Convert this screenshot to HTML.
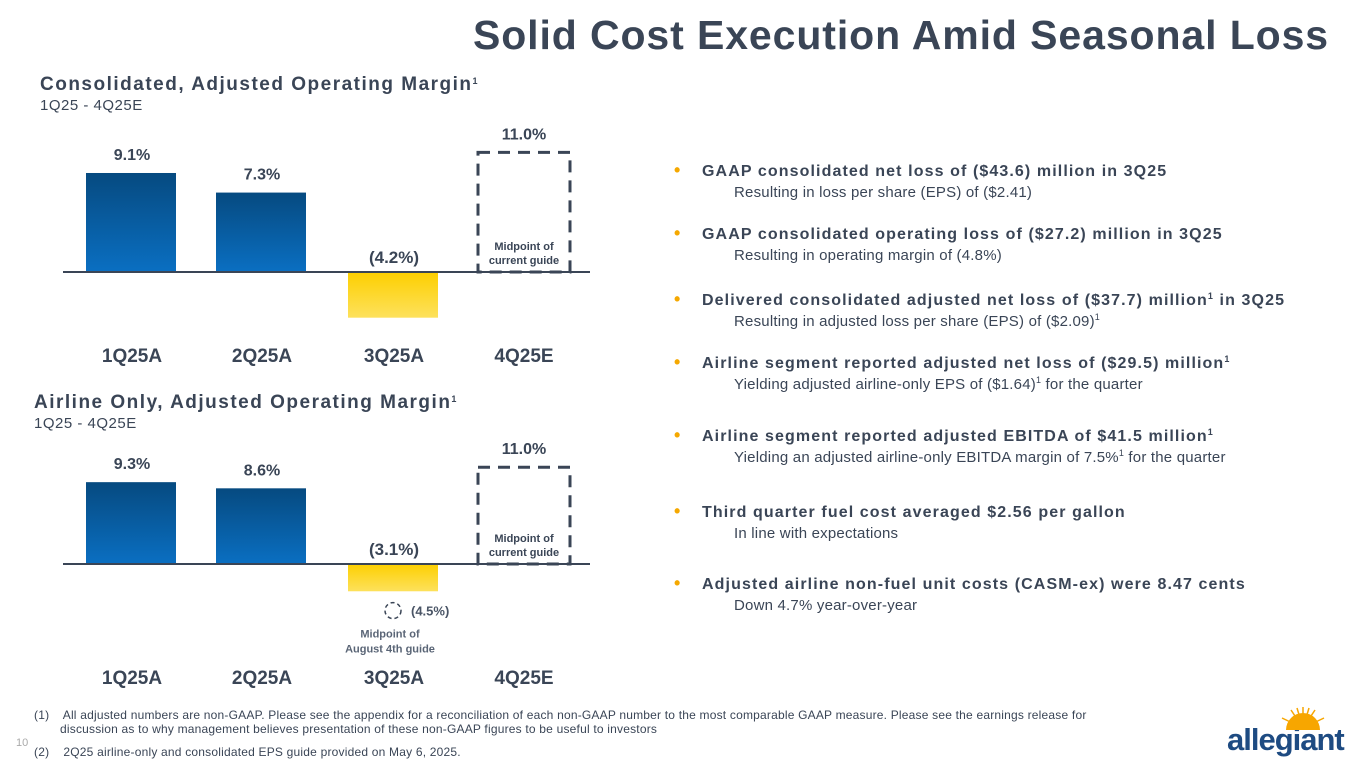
<!DOCTYPE html>
<html><head><meta charset="utf-8"><style>
body{margin:0;width:1365px;height:768px;background:#fff;font-family:"Liberation Sans",sans-serif;color:#3a4556;position:relative;overflow:hidden}
.abs{position:absolute}
h1{position:absolute;right:36px;top:12px;margin:0;font-size:41px;font-weight:bold;color:#3a4556;letter-spacing:0.9px}
.ct{font-size:19px;font-weight:bold;color:#3a4556;letter-spacing:1.5px}
.cs{font-size:15px;color:#3a4556;letter-spacing:0.5px}
.bl{position:absolute;left:674px;font-size:16px}
.bl b{display:block;font-weight:bold;position:relative;letter-spacing:1.1px;line-height:18px}
.bl b::before{content:"•";color:#f5a800;position:absolute;left:0;top:-2px;font-size:18px}
.bl b{padding-left:28px}
.bl span{display:block;padding-left:60px;margin-top:3px;font-size:15px;letter-spacing:0.2px;line-height:18px}
sup{font-size:9px;line-height:0;vertical-align:6px}
.fn{position:absolute;left:34px;font-size:12px;color:#3a4556;letter-spacing:0.2px}
</style></head><body>
<h1>Solid Cost Execution Amid Seasonal Loss</h1>
<div class="abs ct" style="left:40px;top:74px">Consolidated, Adjusted Operating Margin<sup>1</sup></div>
<div class="abs cs" style="left:40px;top:97px">1Q25 - 4Q25E</div>
<div class="abs ct" style="left:34px;top:392px">Airline Only, Adjusted Operating Margin<sup>1</sup></div>
<div class="abs cs" style="left:34px;top:415px">1Q25 - 4Q25E</div>
<svg class="abs" style="left:0;top:0" width="1365" height="768" id="charts">
<defs>
<linearGradient id="gb" x1="0" y1="0" x2="0" y2="1"><stop offset="0" stop-color="#064a80"/><stop offset="1" stop-color="#0a6fc2"/></linearGradient>
<linearGradient id="gy" x1="0" y1="0" x2="0" y2="1"><stop offset="0" stop-color="#fdcf00"/><stop offset="1" stop-color="#fde15c"/></linearGradient>
</defs>
</svg>
<div class="bl" style="top:163px"><b>GAAP consolidated net loss of ($43.6) million in 3Q25</b><span>Resulting in loss per share (EPS) of ($2.41)</span></div>
<div class="bl" style="top:226px"><b>GAAP consolidated operating loss of ($27.2) million in 3Q25</b><span>Resulting in operating margin of (4.8%)</span></div>
<div class="bl" style="top:292px"><b>Delivered consolidated adjusted net loss of ($37.7) million<sup>1</sup> in 3Q25</b><span>Resulting in adjusted loss per share (EPS) of ($2.09)<sup>1</sup></span></div>
<div class="bl" style="top:355px"><b>Airline segment reported adjusted net loss of ($29.5) million<sup>1</sup></b><span>Yielding adjusted airline-only EPS of ($1.64)<sup>1</sup> for the quarter</span></div>
<div class="bl" style="top:428px"><b>Airline segment reported adjusted EBITDA of $41.5 million<sup>1</sup></b><span>Yielding an adjusted airline-only EBITDA margin of 7.5%<sup>1</sup> for the quarter</span></div>
<div class="bl" style="top:504px"><b>Third quarter fuel cost averaged $2.56 per gallon</b><span>In line with expectations</span></div>
<div class="bl" style="top:576px"><b>Adjusted airline non-fuel unit costs (CASM-ex) were 8.47 cents</b><span>Down 4.7% year-over-year</span></div>
<div class="fn" style="top:708px;width:1060px;padding-left:26px;text-indent:-26px">(1)&nbsp;&nbsp;&nbsp; All adjusted numbers are non-GAAP. Please see the appendix for a reconciliation of each non-GAAP number to the most comparable GAAP measure. Please see the earnings release for discussion as to why management believes presentation of these non-GAAP figures to be useful to investors</div>
<div class="fn" style="top:745px">(2)&nbsp;&nbsp;&nbsp; 2Q25 airline-only and consolidated EPS guide provided on May 6, 2025.</div>
<div class="abs" style="left:16px;top:737px;font-size:11px;color:#aaa">10</div>
<div class="abs" style="left:1227px;top:722px;font-size:31px;font-weight:bold;color:#1e4b82;letter-spacing:-1px">allegiant</div>
<svg class="abs" style="left:1278px;top:706px" width="50" height="26">
<path d="M8 24 A17 17 0 0 1 42 24 Z" fill="#f7a600"/>
<g stroke="#f7a600" stroke-width="1.5"><line x1="25" y1="22" x2="25" y2="1"/><line x1="25" y1="22" x2="13" y2="4"/><line x1="25" y1="22" x2="37" y2="4"/><line x1="25" y1="22" x2="4" y2="12"/><line x1="25" y1="22" x2="46" y2="12"/><line x1="25" y1="22" x2="19" y2="2"/><line x1="25" y1="22" x2="31" y2="2"/></g></svg>
<script>
const categories=["1Q25A","2Q25A","3Q25A","4Q25E"];
const consValues=[9.1,7.3,-4.2,11.0];
const consLabels=["9.1%","7.3%","(4.2%)","11.0%"];
const airValues=[9.3,8.6,-3.1,11.0];
const airLabels=["9.3%","8.6%","(3.1%)","11.0%"];
const augGuideValue=-4.5;
const augGuideLabel="(4.5%)";
const NS="http://www.w3.org/2000/svg";
const svg=document.getElementById('charts');
function mk(t,a,txt){const e=document.createElementNS(NS,t);for(const k in a)e.setAttribute(k,a[k]);if(txt!=null)e.textContent=txt;svg.appendChild(e);return e;}
const barX=[86,216,348,478];
function draw(vals,labs,base,scale,catY,pre){
  const y=v=>base-v*scale;
  vals.forEach((v,i)=>{
    const x=barX[i];
    if(i===3){
      const r=mk('rect',{x:x,y:y(v),width:92,height:base-y(v),fill:'none',stroke:'#3a4556','stroke-width':3,'stroke-dasharray':'12 8'});
      
      const t1=mk('text',{x:x+46,y:base-22,'text-anchor':'middle','font-size':11,'font-weight':'bold',fill:'#3a4556'},'Midpoint of');
      
      const t2=mk('text',{x:x+46,y:base-8,'text-anchor':'middle','font-size':11,'font-weight':'bold',fill:'#3a4556'},'current guide');
      
    }else{
      const top=Math.min(y(v),base),h=Math.abs(v*scale);
      const r=mk('rect',{x:x,y:top,width:90,height:h,fill:v<0?'url(#gy)':'url(#gb)'});
      
    }
    const ly=v>=0?y(v)-13:base-9;
    const t=mk('text',{x:x+46,y:ly,'text-anchor':'middle','font-size':v>=0?16:17,'font-weight':'bold',fill:'#3a4556'},labs[i]);
    
    const c=mk('text',{x:x+46,y:catY,'text-anchor':'middle','font-size':19,'font-weight':'bold',fill:'#3a4556'},categories[i]);
    
  });
  const l=mk('line',{x1:63,x2:590,y1:base,y2:base,stroke:'#3a4556','stroke-width':2});
  
  return y;
}
draw(consValues,consLabels,272,10.88,362,'chart1');
const y2=draw(airValues,airLabels,564,8.8,684,'chart2');
const gy=y2(augGuideValue)+7;
const ci=mk('circle',{cx:393,cy:gy,r:8,fill:'none',stroke:'#3a4556','stroke-width':1.5,'stroke-dasharray':'4 3'});

const gt=mk('text',{x:411,y:gy+5,'font-size':13,'font-weight':'bold',fill:'#4a5566'},augGuideLabel);

const n1=mk('text',{x:390,y:gy+27,'text-anchor':'middle','font-size':11,'font-weight':'bold',fill:'#5a6576'},'Midpoint of');

const n2=mk('text',{x:390,y:gy+42,'text-anchor':'middle','font-size':11,'font-weight':'bold',fill:'#5a6576'},'August 4th guide');

</script>
</body></html>
